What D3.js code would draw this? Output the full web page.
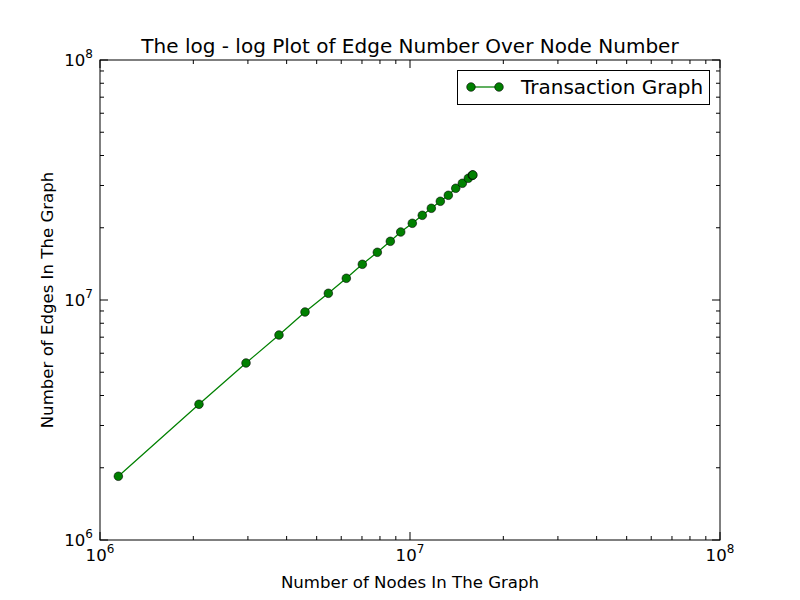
<!DOCTYPE html>
<html><head><meta charset="utf-8">
<script src="https://cdnjs.cloudflare.com/ajax/libs/d3/7.8.5/d3.min.js"></script>
<style>body{margin:0;background:#fff;} text{font-family:"DejaVu Sans",sans-serif;}</style>
</head><body>
<svg id="c" width="800" height="600"></svg>
<script>
const nodes = [1.146e6, 2.086e6, 2.958e6, 3.779e6, 4.585e6, 5.452e6, 6.231e6, 7.018e6, 7.845e6, 8.640e6, 9.333e6, 1.0172e7, 1.0956e7, 1.1716e7, 1.2526e7, 1.3293e7, 1.4045e7, 1.4751e7, 1.5422e7, 1.5887e7, 1.592e7, 1.595e7];
const edges = [1.843e6, 3.677e6, 5.464e6, 7.147e6, 8.913e6, 1.0664e7, 1.2315e7, 1.4085e7, 1.5802e7, 1.7560e7, 1.9204e7, 2.0872e7, 2.2536e7, 2.4106e7, 2.5779e7, 2.7306e7, 2.9203e7, 3.0636e7, 3.2146e7, 3.3084e7, 3.315e7, 3.32e7];
const majorExps = [6, 7, 8];
const seriesName = "Transaction Graph";
const title = "The log - log Plot of Edge Number Over Node Number";
const xLabel = "Number of Nodes In The Graph";
const yLabel = "Number of Edges In The Graph";

const svg = d3.select("#c");
const L = 100, R = 720, T = 60, B = 540;
const x = d3.scaleLog().domain([1e6, 1e8]).range([L, R]);
const y = d3.scaleLog().domain([1e6, 1e8]).range([B, T]);

const minor = [];
for (let e = 6; e < 8; e++) for (let m = 2; m <= 9; m++) minor.push(m * Math.pow(10, e));
const major = majorExps.map(e => Math.pow(10, e));

const g = svg.append("g");
function ticks(vals, len) {
  vals.forEach(v => {
    const px = x(v), py = y(v);
    g.append("line").attr("x1", px).attr("x2", px).attr("y1", B).attr("y2", B - len).attr("stroke", "#000");
    g.append("line").attr("x1", px).attr("x2", px).attr("y1", T).attr("y2", T + len).attr("stroke", "#000");
    g.append("line").attr("y1", py).attr("y2", py).attr("x1", L).attr("x2", L + len).attr("stroke", "#000");
    g.append("line").attr("y1", py).attr("y2", py).attr("x1", R).attr("x2", R - len).attr("stroke", "#000");
  });
}
ticks(minor, 4);
ticks(major, 8);

const data = nodes.map((n, i) => [n, edges[i]]);
g.append("path").datum(data)
  .attr("d", d3.line().x(d => x(d[0])).y(d => y(d[1])))
  .attr("fill", "none").attr("stroke", "#008000").attr("stroke-width", 1.25);
g.selectAll("circle.pt").data(data).enter().append("circle")
  .attr("cx", d => x(d[0])).attr("cy", d => y(d[1])).attr("r", 4.3)
  .attr("fill", "#008000").attr("stroke", "#000").attr("stroke-width", 0.6);

g.append("rect").attr("x", L).attr("y", T).attr("width", R - L).attr("height", B - T)
  .attr("fill", "none").attr("stroke", "#000").attr("stroke-width", 1);

majorExps.forEach(e => {
  const v = Math.pow(10, e);
  const tx = g.append("text").attr("x", x(v)).attr("y", 561).attr("text-anchor", "middle").attr("font-size", 16.6);
  tx.append("tspan").text("10");
  tx.append("tspan").attr("dy", -8).attr("font-size", 12).text(e);
  const ty = g.append("text").attr("x", 93).attr("y", y(v) + 6).attr("text-anchor", "end").attr("font-size", 16.6);
  ty.append("tspan").text("10");
  ty.append("tspan").attr("dy", -8).attr("font-size", 12).text(e);
});

svg.append("text").attr("x", 410).attr("y", 53).attr("text-anchor", "middle").attr("font-size", 20).text(title);
svg.append("text").attr("x", 410).attr("y", 588).attr("text-anchor", "middle").attr("font-size", 16.6).text(xLabel);
svg.append("text").attr("transform", "translate(53,300) rotate(-90)").attr("text-anchor", "middle").attr("font-size", 16.6).text(yLabel);

const lg = svg.append("g");
lg.append("rect").attr("x", 457.5).attr("y", 70.5).attr("width", 252).attr("height", 34).attr("fill", "#fff").attr("stroke", "#000");
lg.append("line").attr("x1", 471).attr("x2", 499).attr("y1", 87).attr("y2", 87).attr("stroke", "#008000").attr("stroke-width", 1.25);
[471, 499].forEach(cx => lg.append("circle").attr("cx", cx).attr("cy", 87).attr("r", 4.3).attr("fill", "#008000").attr("stroke", "#000").attr("stroke-width", 0.6));
lg.append("text").attr("x", 521).attr("y", 94).attr("font-size", 20).text(seriesName);
</script>
</body></html>
